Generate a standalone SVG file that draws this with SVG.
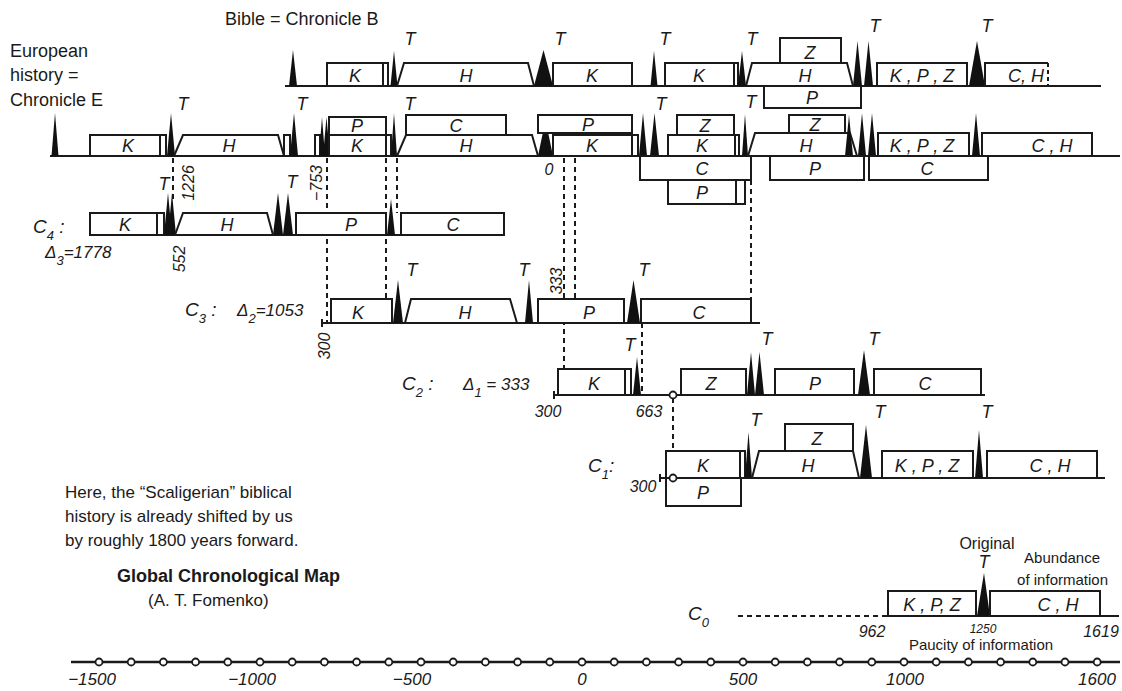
<svg xmlns="http://www.w3.org/2000/svg" width="1122" height="691" viewBox="0 0 1122 691">
<style>
.b{fill:#fff;stroke:#1a1a1a;stroke-width:2}
.s{fill:#111;stroke:none}
.ln{stroke:#1a1a1a;stroke-width:2;fill:none}
.d{stroke:#1a1a1a;stroke-width:2;stroke-dasharray:5 4;fill:none}
.c{fill:#fff;stroke:#1a1a1a;stroke-width:1.8}
text{font-family:"Liberation Sans",Arial,sans-serif;fill:#1a1a1a}
.L{font-style:italic;font-size:18px;text-anchor:middle}
.T{font-style:italic;font-size:18px;text-anchor:middle}
.N{font-style:italic;font-size:16px;text-anchor:middle}
.R{font-style:italic;font-size:16px;text-anchor:middle}
.H{font-size:18px}
.P{font-size:17px}
.C{font-style:italic;font-size:19px}
.sub{font-size:13px}
</style>
<rect width="1122" height="691" fill="#fff"/>

<g id="connectors">
<line class="d" x1="173" y1="158" x2="173" y2="200"/>
<line class="d" x1="327" y1="158" x2="327" y2="323"/>
<line class="d" x1="386" y1="158" x2="386" y2="323"/>
<line class="d" x1="397" y1="158" x2="397" y2="213"/>
<line class="d" x1="564" y1="158" x2="564" y2="395"/>
<line class="d" x1="575" y1="158" x2="575" y2="299"/>
<line class="d" x1="751" y1="180" x2="751" y2="299"/>
<line class="d" x1="642" y1="323" x2="642" y2="395"/>
<line class="d" x1="673" y1="398" x2="673" y2="475"/>
</g>

<g id="chronicle-b">
<text class="H" x="225" y="25">Bible = Chronicle B</text>
<line class="ln" x1="285" y1="86" x2="1101" y2="86"/>
<polygon class="s" points="289,86 293,50 297,86"/>
<rect class="b" x="327" y="63" width="56" height="23"/><text class="L" x="355" y="82">K</text>
<rect class="b" x="383" y="63" width="5" height="23"/>
<polygon class="s" points="390.5,86 394,51 397.5,86"/><text class="T" x="410" y="45">T</text>
<polygon class="b" points="397,86 404,63 528,63 534,86"/><text class="L" x="466" y="82">H</text>
<polygon class="s" points="534,86 543.5,50 553,86"/><text class="T" x="560" y="45">T</text>
<rect class="b" x="553" y="63" width="79" height="23"/><text class="L" x="592" y="82">K</text>
<polygon class="s" points="650.5,86 654,51 657.5,86"/><text class="T" x="665" y="45">T</text>
<rect class="b" x="665" y="63" width="69" height="23"/><text class="L" x="699" y="82">K</text>
<rect class="b" x="734" y="63" width="4" height="23"/>
<polygon class="s" points="738,86 742,51 746,86"/><text class="T" x="752" y="45">T</text>
<polygon class="b" points="746,86 752,63 847,63 853,86"/><text class="L" x="805" y="82">H</text>
<rect class="b" x="780" y="38" width="61" height="25"/><text class="L" x="810" y="59">Z</text>
<rect class="b" x="764" y="86" width="97" height="22"/><text class="L" x="812" y="104">P</text>
<polygon class="s" points="853,86 857.5,41 862,86"/>
<polygon class="s" points="864,86 868.5,41 873,86"/><text class="T" x="875" y="32">T</text>
<rect class="b" x="877" y="63" width="90" height="23"/><text class="L" x="922" y="82">K , P , Z</text>
<polygon class="s" points="969,86 977,41 985,86"/><text class="T" x="987" y="32">T</text>
<polyline class="ln" points="985,86 985,63 1048,63"/>
<line class="ln" x1="1048" y1="63" x2="1048" y2="86" stroke-dasharray="4 3"/>
<text class="L" x="1026" y="82">C, H</text>
</g>

<g id="chronicle-e">
<text class="H" x="10" y="57">European</text>
<text class="H" x="10" y="81">history =</text>
<text class="H" x="10" y="106">Chronicle E</text>
<line class="ln" x1="50" y1="156" x2="1120" y2="156"/>
<polygon class="s" points="51.5,156 55,113 58.5,156"/>
<rect class="b" x="90" y="135" width="70" height="21"/><text class="L" x="128" y="152">K</text>
<rect class="b" x="160" y="135" width="6" height="21"/>
<polygon class="s" points="167,156 171,113 175,156"/><text class="T" x="183" y="110">T</text>
<polygon class="b" points="174,156 183,135 278,135 284,156"/><text class="L" x="229" y="152">H</text>
<rect class="b" x="284" y="135" width="6" height="21"/>
<polygon class="s" points="290,156 294,113 298,156"/><text class="T" x="302" y="110">T</text>
<rect class="b" x="315" y="135" width="5" height="21"/>
<polygon class="s" points="319,156 322,117 325,156"/>
<polygon class="s" points="323,156 326.5,117 330,156"/>
<rect class="b" x="329" y="117" width="57" height="18"/><text class="L" x="357" y="132">P</text>
<rect class="b" x="329" y="135" width="57" height="21"/><text class="L" x="357" y="152">K</text>
<rect class="b" x="386" y="135" width="5" height="21"/>
<polygon class="s" points="391,156 394,113 397,156"/><text class="T" x="410" y="110">T</text>
<polygon class="b" points="397,156 406,135 532,135 538,156"/><text class="L" x="466" y="152">H</text>
<rect class="b" x="406" y="115" width="100" height="20"/><text class="L" x="456" y="132">C</text>
<polygon class="s" points="538,156 545.5,120 553,156"/>
<rect class="b" x="538" y="115" width="94" height="18"/><text class="L" x="588" y="131">P</text>
<rect class="b" x="553" y="135" width="79" height="21"/><text class="L" x="592" y="152">K</text>
<rect class="b" x="632" y="135" width="6" height="21"/>
<text class="N" x="549" y="175">0</text>
<polygon class="s" points="639,156 643,113 647,156"/>
<polygon class="s" points="650,156 654.5,113 659,156"/><text class="T" x="661" y="110">T</text>
<rect class="b" x="640" y="156" width="111" height="24"/><text class="L" x="702" y="175">C</text>
<rect class="b" x="677" y="115" width="57" height="20"/><text class="L" x="705" y="132">Z</text>
<rect class="b" x="668" y="135" width="67" height="21"/><text class="L" x="702" y="152">K</text>
<rect class="b" x="735" y="135" width="4" height="21"/>
<rect class="b" x="668" y="180" width="68" height="24"/><text class="L" x="702" y="199">P</text>
<rect class="b" x="736" y="180" width="9" height="24"/>
<polygon class="s" points="742,156 745,114 748,156"/><text class="T" x="751" y="108">T</text>
<polygon class="b" points="748,156 755,133 850,133 857,156"/><text class="L" x="806" y="152">H</text>
<rect class="b" x="789" y="115" width="56" height="18"/><text class="L" x="815" y="131">Z</text>
<polygon class="s" points="845,156 849,115 853,156"/>
<polygon class="s" points="858,156 862,113 866,156"/>
<polygon class="s" points="868,156 872,113 876,156"/>
<rect class="b" x="770" y="156" width="94" height="24"/><text class="L" x="815" y="175">P</text>
<rect class="b" x="869" y="156" width="119" height="24"/><text class="L" x="927" y="175">C</text>
<rect class="b" x="878" y="133" width="91" height="23"/><text class="L" x="922" y="152">K , P , Z</text>
<polygon class="s" points="972,156 976,113 980,156"/>
<rect class="b" x="982" y="133" width="110" height="23"/><text class="L" x="1052" y="152">C , H</text>
</g>

<g id="c4">
<text class="C" x="33" y="233">C<tspan class="sub" dy="7">4</tspan><tspan dy="-7"> :</tspan></text>
<text class="C" x="45" y="258" style="font-size:17px">Δ<tspan class="sub" dy="7">3</tspan><tspan dy="-7">=1778</tspan></text>
<line class="ln" x1="90" y1="235" x2="504" y2="235"/>
<rect class="b" x="90" y="213" width="67" height="22"/><text class="L" x="125" y="231">K</text>
<rect class="b" x="157" y="213" width="7" height="22"/>
<polygon class="s" points="164,235 168,193 172,235"/>
<polygon class="s" points="168,235 172,193 176,235"/><text class="T" x="164" y="190">T</text>
<polygon class="b" points="175,235 183,213 267,213 273,235"/><text class="L" x="227" y="231">H</text>
<polygon class="s" points="273,235 278,193 283,235"/>
<polygon class="s" points="283,235 288,193 293,235"/><text class="T" x="292" y="188">T</text>
<rect class="b" x="296" y="213" width="90" height="22"/><text class="L" x="351" y="231">P</text>
<polygon class="s" points="387,235 391,199 395,235"/>
<rect class="b" x="401" y="213" width="103" height="22"/><text class="L" x="453" y="231">C</text>
<text class="R" transform="translate(194,183) rotate(-90)">1226</text>
<text class="R" transform="translate(322,183) rotate(-90)">−753</text>
<text class="R" transform="translate(185,259) rotate(-90)">552</text>
</g>

<g id="c3">
<text class="C" x="185" y="316">C<tspan class="sub" dy="7">3</tspan><tspan dy="-7"> :</tspan></text>
<text class="C" x="237" y="316" style="font-size:17px">Δ<tspan class="sub" dy="7">2</tspan><tspan dy="-7">=1053</tspan></text>
<line class="ln" x1="322" y1="323" x2="760" y2="323"/>
<line class="ln" x1="322" y1="319" x2="322" y2="327"/>
<rect class="b" x="331" y="299" width="61" height="24"/><text class="L" x="358" y="319">K</text>
<polygon class="s" points="393,323 398,280 403,323"/><text class="T" x="412" y="276">T</text>
<polygon class="b" points="405,323 411,299 510,299 517,323"/><text class="L" x="465" y="319">H</text>
<polygon class="s" points="525,323 529,280 533,323"/><text class="T" x="524" y="276">T</text>
<rect class="b" x="538" y="299" width="86" height="24"/><text class="L" x="589" y="319">P</text>
<polygon class="s" points="627,323 633.5,280 640,323"/><text class="T" x="644" y="276">T</text>
<rect class="b" x="641" y="299" width="110" height="24"/><text class="L" x="699" y="319">C</text>
<text class="R" transform="translate(562,281) rotate(-90)">333</text>
<text class="R" transform="translate(330,346) rotate(-90)">300</text>
</g>

<g id="c2">
<text class="C" x="402" y="390">C<tspan class="sub" dy="7">2</tspan><tspan dy="-7"> :</tspan></text>
<text class="C" x="463" y="390" style="font-size:17px">Δ<tspan class="sub" dy="7">1</tspan><tspan dy="-7"> = 333</tspan></text>
<line class="ln" x1="554" y1="395" x2="985" y2="395"/>
<line class="ln" x1="554" y1="391" x2="554" y2="399"/>
<rect class="b" x="558" y="369" width="67" height="26"/><text class="L" x="594" y="390">K</text>
<rect class="b" x="625" y="369" width="6" height="26"/>
<polygon class="s" points="633,395 637,357 641,395"/><text class="T" x="630" y="351">T</text>
<circle class="c" cx="673" cy="395" r="3.5"/>
<rect class="b" x="681" y="369" width="65" height="26"/><text class="L" x="711" y="390">Z</text>
<polygon class="s" points="747,395 751,352 755,395"/>
<polygon class="s" points="755,395 759.5,352 764,395"/><text class="T" x="767" y="345">T</text>
<rect class="b" x="775" y="369" width="79" height="26"/><text class="L" x="815" y="390">P</text>
<polygon class="s" points="858,395 864,350 870,395"/><text class="T" x="874" y="345">T</text>
<rect class="b" x="874" y="369" width="107" height="26"/><text class="L" x="925" y="390">C</text>
<text class="N" x="548" y="417">300</text>
<text class="N" x="649" y="417">663</text>
</g>

<g id="c1">
<text class="C" x="588" y="472">C<tspan class="sub" dy="7">1</tspan><tspan dy="-7">:</tspan></text>
<line class="ln" x1="660" y1="478" x2="1105" y2="478"/>
<line class="ln" x1="660" y1="474" x2="660" y2="482"/>
<rect class="b" x="666" y="451" width="74" height="27"/><text class="L" x="703" y="472">K</text>
<rect class="b" x="740" y="451" width="5" height="27"/>
<rect class="b" x="666" y="478" width="75" height="28"/><text class="L" x="703" y="499">P</text>
<polygon class="s" points="745,478 748.5,432 752,478"/><text class="T" x="756" y="426">T</text>
<polygon class="b" points="752,478 759,451 853,451 859,478"/><text class="L" x="808" y="472">H</text>
<rect class="b" x="785" y="424" width="68" height="27"/><text class="L" x="817" y="445">Z</text>
<polygon class="s" points="860,478 866,425 872,478"/><text class="T" x="880" y="418">T</text>
<rect class="b" x="882" y="451" width="91" height="27"/><text class="L" x="927" y="472">K , P , Z</text>
<polygon class="s" points="975,478 979,430 983,478"/><text class="T" x="987" y="418">T</text>
<rect class="b" x="987" y="451" width="110" height="27"/><text class="L" x="1050" y="472">C , H</text>
<circle class="c" cx="673" cy="478" r="3.5"/>
<text class="N" x="643" y="492">300</text>
</g>

<g id="note">
<text class="P" x="65" y="498">Here, the “Scaligerian” biblical</text>
<text class="P" x="65" y="522">history is already shifted by us</text>
<text class="P" x="65" y="546">by roughly 1800 years forward.</text>
</g>

<g id="title">
<text x="117" y="582" style="font-size:18px;font-weight:bold">Global Chronological Map</text>
<text x="148" y="606" style="font-size:17px">(A. T. Fomenko)</text>
</g>

<g id="c0">
<text class="C" x="688" y="620">C<tspan class="sub" dy="7">0</tspan></text>
<line class="d" x1="738" y1="616" x2="887" y2="616"/>
<line class="ln" x1="888" y1="616" x2="1119" y2="616"/>
<rect class="b" x="888" y="591" width="88" height="25"/><text class="L" x="932" y="611">K , P, Z</text>
<polygon class="s" points="977,616 984,573 990,616"/><text class="T" x="984" y="568">T</text>
<rect class="b" x="990" y="591" width="110" height="25"/><text class="L" x="1058" y="611">C , H</text>
<text x="987" y="549" style="font-size:16px;text-anchor:middle">Original</text>
<text x="1100" y="563" style="font-size:15px;text-anchor:end">Abundance</text>
<text x="1108" y="585" style="font-size:15px;text-anchor:end">of information</text>
<text class="N" x="872" y="637">962</text>
<text class="N" x="983" y="633" style="font-size:12px">1250</text>
<text x="981" y="650" style="font-size:15px;text-anchor:middle">Paucity of information</text>
<text class="N" x="1101" y="637">1619</text>
</g>

<g id="axis">
<line x1="71" y1="662" x2="1120" y2="662" stroke="#1a1a1a" stroke-width="2.5"/>
<g class="c">
<circle cx="99" cy="662" r="3.5"/><circle cx="131.2" cy="662" r="3.5"/><circle cx="163.4" cy="662" r="3.5"/><circle cx="195.6" cy="662" r="3.5"/><circle cx="227.8" cy="662" r="3.5"/><circle cx="260" cy="662" r="3.5"/><circle cx="292.2" cy="662" r="3.5"/><circle cx="324.4" cy="662" r="3.5"/><circle cx="356.6" cy="662" r="3.5"/><circle cx="388.8" cy="662" r="3.5"/><circle cx="421" cy="662" r="3.5"/><circle cx="453.2" cy="662" r="3.5"/><circle cx="485.4" cy="662" r="3.5"/><circle cx="517.6" cy="662" r="3.5"/><circle cx="549.8" cy="662" r="3.5"/><circle cx="582" cy="662" r="3.5"/><circle cx="614.2" cy="662" r="3.5"/><circle cx="646.4" cy="662" r="3.5"/><circle cx="678.6" cy="662" r="3.5"/><circle cx="710.8" cy="662" r="3.5"/><circle cx="743" cy="662" r="3.5"/><circle cx="775.2" cy="662" r="3.5"/><circle cx="807.4" cy="662" r="3.5"/><circle cx="839.6" cy="662" r="3.5"/><circle cx="871.8" cy="662" r="3.5"/><circle cx="904" cy="662" r="3.5"/><circle cx="936.2" cy="662" r="3.5"/><circle cx="968.4" cy="662" r="3.5"/><circle cx="1000.6" cy="662" r="3.5"/><circle cx="1032.8" cy="662" r="3.5"/><circle cx="1065" cy="662" r="3.5"/><circle cx="1097.2" cy="662" r="3.5"/>
</g>
<text class="N" x="92" y="685" style="font-size:17px">−1500</text>
<text class="N" x="252" y="685" style="font-size:17px">−1000</text>
<text class="N" x="412" y="685" style="font-size:17px">−500</text>
<text class="N" x="582" y="685" style="font-size:17px">0</text>
<text class="N" x="743" y="685" style="font-size:17px">500</text>
<text class="N" x="905" y="685" style="font-size:17px">1000</text>
<text class="N" x="1097" y="685" style="font-size:17px">1600</text>
</g>
</svg>
